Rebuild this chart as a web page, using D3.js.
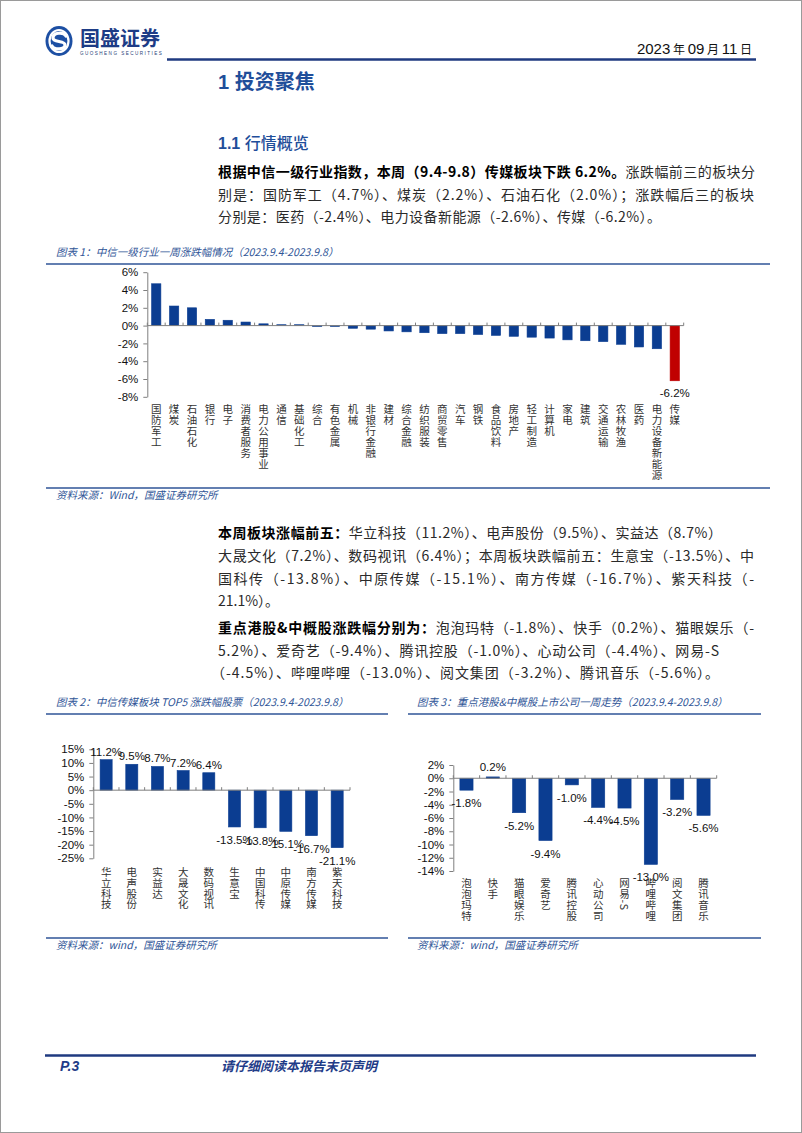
<!DOCTYPE html>
<html><head><meta charset="utf-8">
<script src="https://cdn.jsdelivr.net/npm/d3@7"></script>
<style>
html,body{margin:0;padding:0;background:#fff;}
svg{display:block;}
</style></head><body>
<svg id="page" width="802" height="1133"></svg>
<script>
// ---------------- DATA ----------------
const industryNames = ["国防军工","煤炭","石油石化","银行","电子","消费者服务","电力公用事业","通信","基础化工","综合","有色金属","机械","非银行金融","建材","综合金融","纺织服装","商贸零售","汽车","钢铁","食品饮料","房地产","轻工制造","计算机","家电","建筑","交通运输","农林牧渔","医药","电力设备新能源","传媒"];
const industryValues = [4.7,2.2,2.0,0.7,0.6,0.4,0.2,0.1,0.1,-0.1,-0.1,-0.3,-0.4,-0.6,-0.7,-0.8,-0.9,-0.9,-1.0,-1.1,-1.2,-1.3,-1.4,-1.6,-1.7,-1.8,-2.1,-2.4,-2.6,-6.2];
const industryTicks = [6,4,2,0,-2,-4,-6,-8];
const highlightIndustry = "传媒";

const mediaStocks = ["华立科技","电声股份","实益达","大晟文化","数码视讯","生意宝","中国科传","中原传媒","南方传媒","紫天科技"];
const mediaValues = [11.2,9.5,8.7,7.2,6.4,-13.5,-13.8,-15.1,-16.7,-21.1];
const mediaTicks = [15,10,5,0,-5,-10,-15,-20,-25];

const hkStocks = ["泡泡玛特","快手","猫眼娱乐","爱奇艺","腾讯控股","心动公司","网易-S","哔哩哔哩","阅文集团","腾讯音乐"];
const hkValues = [-1.8,0.2,-5.2,-9.4,-1.0,-4.4,-4.5,-13.0,-3.2,-5.6];
const hkTicks = [2,0,-2,-4,-6,-8,-10,-12,-14];

const chartTitles = ["图表 1：中信一级行业一周涨跌幅情况（2023.9.4-2023.9.8）","图表 2：中信传媒板块 TOP5 涨跌幅股票（2023.9.4-2023.9.8）","图表 3：重点港股&中概股上市公司一周走势（2023.9.4-2023.9.8）"];
const chartSources = ["资料来源：Wind，国盛证券研究所","资料来源：wind，国盛证券研究所","资料来源：wind，国盛证券研究所"];

const para1 = [
  [["根据中信一级行业指数，本周（9.4-9.8）传媒板块下跌 6.2%。",1],["涨跌幅前三的板块分",0]],
  [["别是：国防军工（4.7%）、煤炭（2.2%）、石油石化（2.0%）；涨跌幅后三的板块",0]],
  [["分别是：医药（-2.4%）、电力设备新能源（-2.6%）、传媒（-6.2%）。",0]]
];
const para2 = [
  [["本周板块涨幅前五：",1],["华立科技（11.2%）、电声股份（9.5%）、实益达（8.7%）",0]],
  [["大晟文化（7.2%）、数码视讯（6.4%）；本周板块跌幅前五：生意宝（-13.5%）、中",0]],
  [["国科传（-13.8%）、中原传媒（-15.1%）、南方传媒（-16.7%）、紫天科技（-",0]],
  [["21.1%）。",0]]
];
const para3 = [
  [["重点港股&中概股涨跌幅分别为：",1],["泡泡玛特（-1.8%）、快手（0.2%）、猫眼娱乐（-",0]],
  [["5.2%）、爱奇艺（-9.4%）、腾讯控股（-1.0%）、心动公司（-4.4%）、网易-S",0]],
  [["（-4.5%）、哔哩哔哩（-13.0%）、阅文集团（-3.2%）、腾讯音乐（-5.6%）。",0]]
];

// ---------------- STYLE ----------------
const CJK = "'Noto Sans CJK SC','Noto Sans',sans-serif";
const LAT = "'Liberation Sans',Arial,sans-serif";
const NAVY = "#1f3a80";
const TITLE_BLUE = "#2f5597";
const BAR_BLUE = "#0b3d91";
const BAR_RED = "#c00000";
const AXIS = "#7f7f7f";

const svg = d3.select("#page");

svg.append("rect").attr("x",0.5).attr("y",0.5).attr("width",801).attr("height",1132)
  .attr("fill","#fff").attr("stroke","#9a9a9a");

// ---------------- HEADER ----------------
const logo = svg.append("g").attr("transform","translate(59,41)");
logo.append("ellipse").attr("rx",13.5).attr("ry",15).attr("fill","#1d4fa3");
logo.append("ellipse").attr("rx",9.5).attr("ry",11).attr("fill","none").attr("stroke","#fff").attr("stroke-width",2.2);
logo.append("path").attr("d","M7,-5 C5,-9 -6,-9 -6,-3 C-6,2 6,-1 6,4 C6,9 -5,9 -7,5")
  .attr("fill","none").attr("stroke","#fff").attr("stroke-width",3.2).attr("stroke-linecap","round");
svg.append("text").attr("x",80).attr("y",46).attr("font-family",CJK).attr("font-weight",700)
  .attr("font-size",20).attr("fill","#1d3c86").text("国盛证券");
svg.append("text").attr("x",80).attr("y",54.5).attr("font-family",LAT).attr("font-size",4.6)
  .attr("letter-spacing",1.45).attr("fill","#2a3f7a").text("GUOSHENG SECURITIES");

const dateT = svg.append("text").attr("x",752).attr("y",54).attr("text-anchor","end")
  .attr("font-family",LAT).attr("font-size",15).attr("fill","#111");
[["2023",0],[" 年 ",1],["09",0],[" 月 ",1],["11",0],[" 日",1]].forEach(([t,c]) => {
  dateT.append("tspan").attr("font-family",c?CJK:LAT).attr("font-size",c?12:15).text(t);
});
svg.append("line").attr("x1",167).attr("x2",756).attr("y1",59.5).attr("y2",59.5)
  .attr("stroke",NAVY).attr("stroke-width",2.5);

const h1 = svg.append("text").attr("x",218).attr("y",89).attr("font-family",CJK)
  .attr("font-weight",700).attr("font-size",20).attr("fill","#1f4e9a");
h1.append("tspan").attr("font-family",LAT).text("1 ");
h1.append("tspan").text("投资聚焦");
const h2 = svg.append("text").attr("x",218).attr("y",149).attr("font-family",CJK)
  .attr("font-size",16).attr("fill","#1f4e9a");
h2.append("tspan").attr("font-family",LAT).attr("font-weight",700).text("1.1 ");
h2.append("tspan").attr("font-weight",500).text("行情概览");

// ---------------- PARAGRAPHS ----------------
function paragraph(lines, x0s, ys, ends){
  lines.forEach((segs,i) => {
    const t = svg.append("text").attr("x",x0s[i]).attr("y",ys[i])
      .attr("font-family",CJK).attr("font-size",14).attr("fill","#222");
    segs.forEach(([s,b]) => t.append("tspan").attr("font-weight",b?700:400)
      .attr("fill",b?"#000":"#2a2a2a").text(s));
    if (ends[i]) t.attr("textLength",ends[i]-x0s[i]).attr("lengthAdjust","spacing");
  });
}
paragraph(para1,[218,218,218],[177,199.5,221.5],[755,754,661]);
paragraph(para2,[218,218,218,218],[538,561,583.5,606],[722,754,754,null]);
paragraph(para3,[218,218,211],[633,655.5,678],[754,719,719]);

// ---------------- CHART FRAMES ----------------
function frame(x1,x2,titleX,titleY,lineTop,lineBot,title,source){
  svg.append("text").attr("x",titleX).attr("y",titleY).attr("font-family",CJK)
    .attr("font-style","italic").attr("font-size",10.5).attr("fill",TITLE_BLUE).text(title);
  svg.append("line").attr("x1",x1).attr("x2",x2).attr("y1",lineTop).attr("y2",lineTop)
    .attr("stroke",TITLE_BLUE).attr("stroke-width",1.6);
  svg.append("line").attr("x1",x1).attr("x2",x2).attr("y1",lineBot).attr("y2",lineBot)
    .attr("stroke",TITLE_BLUE).attr("stroke-width",1.6);
  svg.append("text").attr("x",titleX).attr("y",lineBot+11).attr("font-family",CJK)
    .attr("font-style","italic").attr("font-size",10.5).attr("fill",TITLE_BLUE).text(source);
}
frame(46,770,56,256,264,488,chartTitles[0],chartSources[0]);
frame(46,388,56,706,714,938,chartTitles[1],chartSources[1]);
frame(408,761,417,706,714,938,chartTitles[2],chartSources[2]);

// ---------------- BAR CHART ----------------
function barChart(o){
  const g = svg.append("g");
  const y = d3.scaleLinear().domain([d3.min(o.ticks),d3.max(o.ticks)]).range([o.yBot,o.yTop]);
  const p = 1 - o.ratio;
  const x = d3.scaleBand().domain(o.names).range([o.x0,o.x1]).paddingInner(p).paddingOuter(p/2);
  const step = x.step();
  const y0 = y(0);

  const ya = g.append("g").attr("transform",`translate(${o.x0},0)`)
    .call(d3.axisLeft(y).tickValues(o.ticks).tickSize(4).tickSizeOuter(0).tickPadding(5)
      .tickFormat(d => d + "%"));
  ya.select(".domain").attr("stroke",AXIS);
  ya.selectAll(".tick line").attr("stroke",AXIS);
  ya.selectAll(".tick text").attr("font-family",LAT).attr("font-size",o.tickFont).attr("fill","#111");

  g.selectAll("rect.bar").data(o.names).join("rect").attr("class","bar")
    .attr("x",d => x(d)).attr("width",x.bandwidth())
    .attr("y",(d,i) => y(Math.max(0,o.values[i])))
    .attr("height",(d,i) => Math.abs(y(o.values[i]) - y0))
    .attr("fill",(d,i) => o.color(d,i)).attr("stroke",(d,i) => o.color(d,i)).attr("stroke-width",0.6);

  g.append("line").attr("x1",o.x0).attr("x2",o.x1).attr("y1",y0).attr("y2",y0)
    .attr("stroke",AXIS).attr("stroke-width",1);
  g.selectAll("line.xt").data(d3.range(o.names.length+1)).join("line").attr("class","xt")
    .attr("x1",i => o.x0 + i*step).attr("x2",i => o.x0 + i*step)
    .attr("y1",y0-3).attr("y2",y0).attr("stroke",AXIS);

  o.names.forEach((d,i) => {
    if (!o.showLabel(d,i)) return;
    const v = o.values[i];
    g.append("text").attr("x",x(d)+x.bandwidth()/2)
      .attr("y", v >= 0 ? y(v) - o.posGap : y(v) + o.negGap)
      .attr("text-anchor","middle").attr("font-family",LAT).attr("font-size",o.labelFont)
      .attr("fill","#111").text(v.toFixed(1) + "%");
  });

  // vertical category labels (one text each, vertical writing mode)
  g.selectAll("text.cat").data(o.names).join("text").attr("class","cat")
    .attr("x",d => x(d) + x.bandwidth()/2)
    .attr("y",o.catTop)
    .style("writing-mode","vertical-rl")
    .style("text-orientation","mixed")
    .attr("letter-spacing",o.catStep - o.catFont)
    .attr("font-family",CJK).attr("font-size",o.catFont).attr("fill","#333")
    .text(d => d);
}

barChart({names:industryNames, values:industryValues, ticks:industryTicks,
  x0:147.3, x1:683.7, yTop:272.2, yBot:396.8, ratio:0.52,
  tickFont:11.5, labelFont:11.5, posGap:4, negGap:16,
  catTop:403.5, catStep:11.1, catFont:10.5,
  color:(d) => d === highlightIndustry ? BAR_RED : BAR_BLUE,
  showLabel:(d) => d === highlightIndustry});

barChart({names:mediaStocks, values:mediaValues, ticks:mediaTicks,
  x0:93.3, x1:350, yTop:749.3, yBot:858.3, ratio:0.47,
  tickFont:11.5, labelFont:11.5, posGap:4, negGap:17,
  catTop:866.5, catStep:10.9, catFont:10.5,
  color:() => BAR_BLUE, showLabel:() => true});

barChart({names:hkStocks, values:hkValues, ticks:hkTicks,
  x0:453.3, x1:716.7, yTop:765, yBot:871, ratio:0.5,
  tickFont:11.5, labelFont:11.5, posGap:6, negGap:17,
  catTop:877.5, catStep:11, catFont:10.5,
  color:() => BAR_BLUE, showLabel:() => true});

// ---------------- FOOTER ----------------
svg.append("line").attr("x1",45).attr("x2",756).attr("y1",1055.5).attr("y2",1055.5)
  .attr("stroke",NAVY).attr("stroke-width",2.5);
svg.append("text").attr("x",60).attr("y",1071).attr("font-family",LAT).attr("font-weight",700)
  .attr("font-style","italic").attr("font-size",14).attr("fill","#1f3c88").text("P.3");
svg.append("text").attr("x",221).attr("y",1071).attr("font-family",CJK).attr("font-weight",700)
  .attr("font-style","italic").attr("font-size",13).attr("fill","#1f3c88").text("请仔细阅读本报告末页声明");
</script>
</body></html>
